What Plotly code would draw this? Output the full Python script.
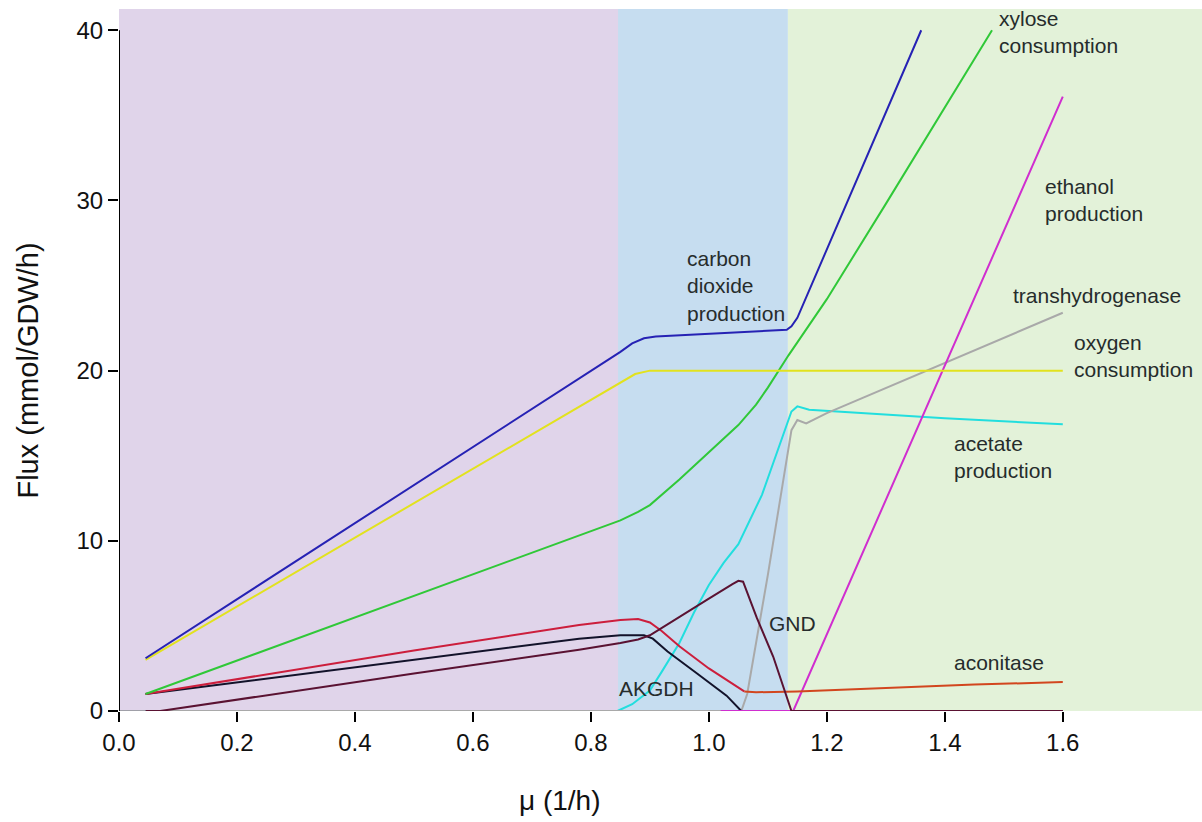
import plotly.graph_objects as go

# ---------------- data ----------------
co2_x = [0.045, 0.85, 0.87, 0.89, 0.91, 1.0, 1.132, 1.14, 1.15, 1.36]
co2_y = [3.1, 21.1, 21.6, 21.9, 22.0, 22.15, 22.4, 22.6, 23.1, 40.0]

oxygen_x = [0.045, 0.85, 0.875, 0.9, 1.6]
oxygen_y = [3.0, 19.3, 19.8, 20.0, 20.0]

xylose_x = [0.045, 0.78, 0.85, 0.88, 0.9, 0.95, 1.0, 1.05, 1.08, 1.1, 1.135, 1.2, 1.3, 1.4, 1.48]
xylose_y = [1.0, 10.3, 11.2, 11.7, 12.1, 13.6, 15.2, 16.8, 18.0, 19.0, 20.9, 24.2, 29.8, 35.5, 40.0]

acetate_x = [0.045, 0.845, 0.87, 0.9, 0.92, 0.95, 0.975, 1.0, 1.025, 1.05, 1.09, 1.14, 1.15, 1.17, 1.4, 1.6]
acetate_y = [0.0, 0.0, 0.4, 1.2, 2.3, 4.0, 5.8, 7.4, 8.7, 9.8, 12.7, 17.6, 17.9, 17.7, 17.2, 16.85]

transhyd_x = [0.045, 1.055, 1.065, 1.1, 1.14, 1.15, 1.165, 1.2, 1.6]
transhyd_y = [0.0, 0.0, 1.0, 8.0, 16.5, 17.1, 16.9, 17.5, 23.4]

ethanol_x = [1.02, 1.143, 1.6]
ethanol_y = [0.0, 0.0, 36.1]

aconitase_x = [0.045, 0.5, 0.78, 0.85, 0.88, 0.9, 0.92, 0.95, 1.0, 1.04, 1.06, 1.08, 1.15, 1.3, 1.45, 1.6]
aconitase_y = [1.0, 3.55, 5.05, 5.35, 5.4, 5.2, 4.7, 3.8, 2.5, 1.6, 1.15, 1.1, 1.15, 1.35, 1.55, 1.7]

akgdh_x = [0.045, 0.5, 0.78, 0.85, 0.89, 0.905, 0.93, 0.98, 1.03, 1.055, 1.6]
akgdh_y = [1.0, 3.0, 4.25, 4.45, 4.45, 4.25, 3.5, 2.2, 0.9, 0.0, 0.0]

gnd_x = [0.045, 0.07, 0.5, 0.78, 0.85, 0.88, 0.9, 0.95, 1.0, 1.04, 1.05, 1.058, 1.081, 1.109, 1.14, 1.6]
gnd_y = [0.0, 0.0, 2.2, 3.6, 4.0, 4.2, 4.45, 5.5, 6.6, 7.45, 7.65, 7.6, 5.5, 3.2, 0.0, 0.0]

# growth-phase regions (mu boundaries)
region_edges = [0.0, 0.846, 1.134, 1.836]
region_colors = ["#e0d4ea", "#c6ddf0", "#e3f2d9"]

x_ticks = [0.0, 0.2, 0.4, 0.6, 0.8, 1.0, 1.2, 1.4, 1.6]
x_tick_text = ["0.0", "0.2", "0.4", "0.6", "0.8", "1.0", "1.2", "1.4", "1.6"]
y_ticks = [0, 10, 20, 30, 40]
y_tick_text = ["0", "10", "20", "30", "40"]

labels = [
    ("carbon<br>dioxide<br>production", 0.959, 25.0),
    ("xylose<br>consumption", 1.488, 39.9),
    ("ethanol<br>production", 1.566, 30.0),
    ("transhydrogenase", 1.513, 24.4),
    ("oxygen<br>consumption", 1.615, 20.85),
    ("acetate<br>production", 1.413, 14.9),
    ("aconitase", 1.413, 2.86),
    ("GND", 1.098, 5.16),
    ("AKGDH", 0.844, 1.33),
]

FONT = "Liberation Sans, Arial, sans-serif"

fig = go.Figure()

# background regions
for i, c in enumerate(region_colors):
    fig.add_shape(type="rect", xref="x", yref="y", x0=region_edges[i], x1=region_edges[i + 1],
                  y0=0, y1=41.25, fillcolor=c, line_width=0, layer="below")
# baseline and y axis line
fig.add_shape(type="line", xref="x", yref="y", x0=0, x1=1.6, y0=0, y1=0,
              line=dict(color="#a0a0a8", width=2), layer="below")
fig.add_shape(type="line", xref="x", yref="y", x0=0, x1=0, y0=0, y1=40,
              line=dict(color="#000000", width=2), layer="above")


def add_line(x, y, color, name):
    fig.add_trace(go.Scatter(x=x, y=y, mode="lines", name=name,
                             line=dict(color=color, width=2), hoverinfo="skip"))


add_line(acetate_x, acetate_y, "#22dede", "acetate production")
add_line(transhyd_x, transhyd_y, "#a9a9a9", "transhydrogenase")
add_line(akgdh_x, akgdh_y, "#12122a", "AKGDH")
add_line(ethanol_x, ethanol_y, "#d02ecf", "ethanol production")
split = 11
add_line(aconitase_x[:split], aconitase_y[:split], "#cc1e3c", "aconitase")
add_line(aconitase_x[split - 1:], aconitase_y[split - 1:], "#d2461e", "aconitase ")
add_line(gnd_x, gnd_y, "#5a1232", "GND")
add_line(xylose_x, xylose_y, "#30c838", "xylose consumption")
add_line(oxygen_x, oxygen_y, "#e2e21e", "oxygen consumption")
add_line(co2_x, co2_y, "#2622b4", "carbon dioxide production")

for text, x, y in labels:
    fig.add_annotation(x=x, y=y, xref="x", yref="y", text=text, showarrow=False,
                       xanchor="left", yanchor="middle", align="left",
                       font=dict(family=FONT, size=21, color="#262c2c"))

# axis titles
fig.add_annotation(x=0.747, xref="x", y=-0.127, yref="paper", text="μ (1/h)", showarrow=False,
                   xanchor="center", yanchor="middle",
                   font=dict(family=FONT, size=28, color="#111111"))
fig.add_annotation(x=-0.084, xref="paper", y=0.485, yref="paper", text="Flux (mmol/GDW/h)",
                   showarrow=False, textangle=-90, xanchor="center", yanchor="middle",
                   font=dict(family=FONT, size=29, color="#111111"))

fig.update_layout(
    width=1202, height=822,
    margin=dict(l=119, r=0, t=9, b=111),
    paper_bgcolor="white", plot_bgcolor="white",
    showlegend=False,
    font=dict(family=FONT, color="#111111"),
)
fig.update_xaxes(range=[0, 1.836], showgrid=False, zeroline=False, showline=False,
                 tickmode="array", tickvals=x_ticks, ticktext=x_tick_text,
                 ticks="outside", ticklen=10, tickwidth=2, tickcolor="#000000",
                 tickfont=dict(family=FONT, size=24, color="#111111"))
fig.update_yaxes(range=[0, 41.25], showgrid=False, zeroline=False, showline=False,
                 tickmode="array", tickvals=y_ticks, ticktext=y_tick_text,
                 ticks="outside", ticklen=10, tickwidth=2, tickcolor="#000000",
                 tickfont=dict(family=FONT, size=24, color="#111111"))

fig.write_html("out.html")
